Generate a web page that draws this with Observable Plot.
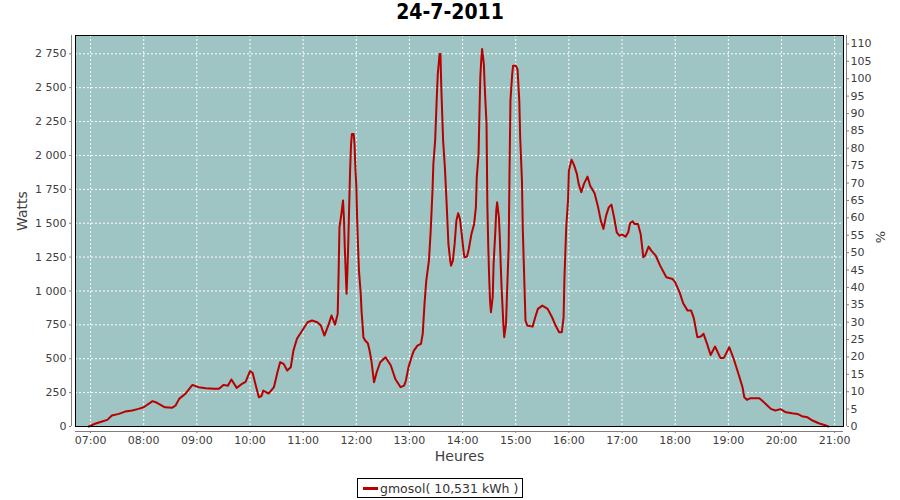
<!DOCTYPE html>
<html>
<head>
<meta charset="utf-8">
<script src="https://cdn.jsdelivr.net/npm/d3@7"></script>
<script src="https://cdn.jsdelivr.net/npm/@observablehq/plot@0.6"></script>
<style>
  body { margin: 0; background: #fff; width: 900px; height: 500px; overflow: hidden; font-family: "DejaVu Sans", sans-serif; }
  #title { width: 900px; height: 30px; line-height: 30px; text-align: center; font: bold 21px "DejaVu Sans Condensed", "DejaVu Sans", sans-serif; color: #000; }
  #legend { margin: 8px 0 0 357px; height: 18px; display: inline-flex; align-items: center; border: 1px solid #000; background: #fff; padding: 0 4px 0 5px; font: 12.5px "DejaVu Sans", sans-serif; color: #333; }
  #legend .sw { display: inline-block; width: 15px; height: 3px; background: #b80000; margin-right: 2px; }
</style>
</head>
<body>
<div id="title">24-7-2011</div>
<div id="chart"></div>
<div id="legend"><span class="sw"></span><span id="legendText"></span></div>
<script>
// ---- data ----
const times = ["06:58","07:05","07:13","07:19","07:24","07:32","07:39","07:47","07:54","08:00","08:10","08:15","08:24","08:32","08:36","08:40","08:47","08:55","09:02","09:10","09:19","09:25","09:30","09:35","09:39","09:45","09:51","09:55","10:00","10:03","10:06","10:10","10:13","10:15","10:21","10:27","10:31","10:34","10:38","10:42","10:46","10:49","10:53","10:59","11:05","11:10","11:16","11:20","11:24","11:29","11:32","11:36","11:39","11:40","11:41","11:43","11:45","11:46","11:47","11:48","11:49","11:50","11:51","11:52","11:53","11:54","11:55","11:57","11:58","11:59","12:00","12:01","12:02","12:03","12:05","12:06","12:07","12:08","12:10","12:13","12:15","12:17","12:20","12:23","12:27","12:33","12:39","12:44","12:50","12:54","12:56","12:59","13:03","13:05","13:09","13:13","13:15","13:17","13:19","13:22","13:24","13:26","13:27","13:29","13:30","13:31","13:32","13:34","13:35","13:36","13:38","13:40","13:42","13:44","13:46","13:47","13:49","13:51","13:53","13:55","13:57","13:59","14:01","14:02","14:05","14:07","14:10","14:13","14:15","14:16","14:18","14:19","14:20","14:21","14:22","14:24","14:25","14:27","14:28","14:29","14:30","14:31","14:32","14:34","14:35","14:37","14:38","14:39","14:41","14:42","14:43","14:44","14:46","14:47","14:49","14:50","14:52","14:53","14:54","14:56","14:57","15:00","15:02","15:04","15:05","15:07","15:08","15:10","15:11","15:13","15:19","15:22","15:25","15:30","15:36","15:41","15:45","15:49","15:52","15:54","15:55","15:57","15:59","16:00","16:03","16:06","16:09","16:11","16:14","16:17","16:21","16:24","16:29","16:33","16:36","16:39","16:42","16:45","16:48","16:51","16:54","16:57","17:00","17:04","17:07","17:09","17:12","17:14","17:18","17:21","17:24","17:26","17:30","17:33","17:38","17:43","17:50","17:57","18:00","18:05","18:09","18:14","18:18","18:21","18:25","18:29","18:32","18:36","18:40","18:45","18:51","18:55","19:01","19:06","19:12","19:16","19:18","19:21","19:25","19:35","19:38","19:44","19:48","19:53","19:59","20:05","20:12","20:18","20:23","20:29","20:35","20:42","20:50","20:53"];
const watts = [0,20,37,49,81,93,110,118,130,142,187,175,142,138,155,204,241,307,290,282,278,278,307,300,347,285,315,330,408,395,315,216,225,265,243,290,400,474,462,413,437,560,647,708,769,782,769,745,671,757,819,752,831,1126,1470,1560,1667,1544,1323,1150,979,1150,1372,1642,1888,2072,2158,2158,2085,1900,1777,1519,1323,1150,979,843,757,659,634,614,560,487,327,400,474,511,450,351,290,302,339,440,524,560,597,610,684,905,1077,1224,1445,1740,1937,2109,2281,2453,2600,2748,2748,2490,2109,1912,1642,1347,1224,1187,1224,1347,1519,1573,1531,1421,1298,1249,1254,1310,1421,1495,1617,1838,2011,2305,2576,2699,2785,2674,2502,2232,1617,1323,1101,929,843,954,1200,1445,1593,1654,1544,1396,1200,1028,757,659,757,954,1323,1888,2404,2600,2662,2662,2637,2404,2134,1814,1445,1003,782,745,737,806,868,892,868,806,745,696,696,806,1101,1470,1667,1888,1969,1925,1864,1790,1728,1790,1844,1777,1721,1617,1519,1458,1556,1617,1637,1544,1433,1408,1416,1401,1433,1500,1514,1495,1495,1421,1249,1261,1327,1298,1261,1187,1101,1089,1064,990,909,855,855,800,659,664,684,610,528,590,506,506,585,500,376,290,216,197,209,209,192,155,130,118,128,105,98,93,76,69,44,24,7,0];
const hourTicks = ["07:00","08:00","09:00","10:00","11:00","12:00","13:00","14:00","15:00","16:00","17:00","18:00","19:00","20:00","21:00"];
const wattTicks = [0,250,500,750,1000,1250,1500,1750,2000,2250,2500,2750];
const pctTicks = [0,5,10,15,20,25,30,35,40,45,50,55,60,65,70,75,80,85,90,95,100,105,110];
const peakWatts = 2566;          // 100 % on the right axis
const xRange = ["06:43","21:10"];
const yMax = 2885;
const seriesName = "gmosol( 10,531 kWh )";

// ---- build ----
const parse = d3.utcParse("%H:%M");
const data = times.map((t, i) => ({t: parse(t), w: watts[i]}));
const xTickDates = hourTicks.map(parse);
const xDomain = xRange.map(parse);
const fr = d3.formatLocale({decimal: ",", thousands: " ", grouping: [3], currency: ["", ""]});
const fmtW = fr.format(",");
const pctW = pctTicks.map(p => p * peakWatts / 100);

const grid = {stroke: "white", strokeOpacity: 1, strokeWidth: 1, strokeDasharray: "2,2"};
const axisLine = {stroke: "#808080", strokeWidth: 1};

const chart = Plot.plot({
  width: 900,
  height: 440,
  marginLeft: 75,
  marginRight: 57,
  marginTop: 5,
  marginBottom: 44,
  style: {fontFamily: "DejaVu Sans, sans-serif", fontSize: "11px", color: "#404040", background: "white", overflow: "visible"},
  x: {type: "utc", domain: xDomain},
  y: {domain: [0, yMax]},
  marks: [
    Plot.frame({fill: "#9ec4c3", stroke: null}),
    Plot.gridX(xTickDates, grid),
    Plot.gridY(wattTicks, grid),
    Plot.line(data, {x: "t", y: "w", stroke: "#b80000", strokeWidth: 2}),
    Plot.frame({stroke: "black", strokeWidth: 1}),
    Plot.ruleX([xDomain[0]], {...axisLine, dx: -4}),
    Plot.ruleX([xDomain[1]], {...axisLine, dx: 3}),
    Plot.ruleY([0], {...axisLine, dy: 5}),
    Plot.axisX(xTickDates, {anchor: "bottom", tickFormat: d3.utcFormat("%H:%M"), tickSize: 2, tickPadding: 3, dy: 5, stroke: "#808080", label: null}),
    Plot.axisY(wattTicks, {anchor: "left", tickFormat: fmtW, tickSize: 2, tickPadding: 3, dx: -4, stroke: "#808080", label: null}),
    Plot.axisY(pctW, {anchor: "right", tickFormat: v => String(Math.round(v * 100 / peakWatts)), tickSize: 2, tickPadding: 2, dx: 3, stroke: "#808080", label: null}),
    Plot.text(["Watts"], {text: d => d, frameAnchor: "left", dx: -53, rotate: -90, fontSize: 14, fill: "#404040"}),
    Plot.text(["%"], {text: d => d, frameAnchor: "right", dx: 37, rotate: -90, fontSize: 13, fill: "#404040"}),
    Plot.text(["Heures"], {text: d => d, frameAnchor: "bottom", dy: 34, fontSize: 14, fill: "#404040"})
  ]
});
document.getElementById("chart").appendChild(chart);
document.getElementById("legendText").textContent = seriesName;
</script>
</body>
</html>
